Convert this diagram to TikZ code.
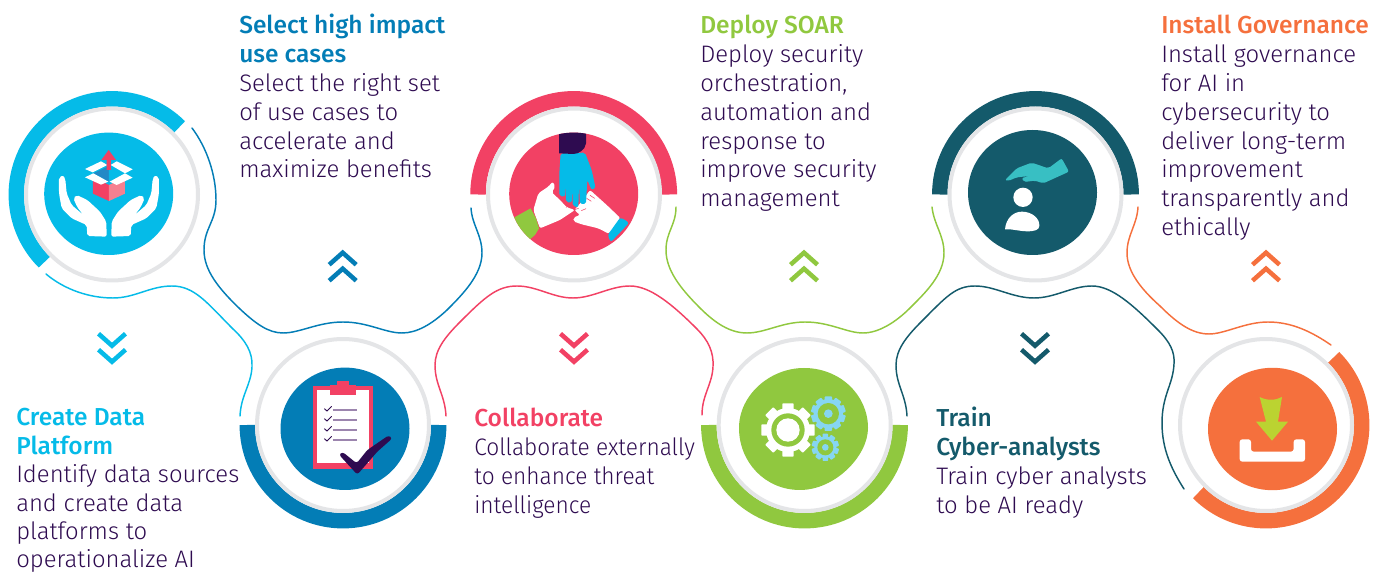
\documentclass[tikz,border=0pt]{standalone}
\usepackage{fontspec}
\newfontfamily\bodyf{Fira Sans Light}
\newfontfamily\headf{Fira Sans Medium}
\definecolor{ink}{HTML}{2E0B50}
\definecolor{ccy}{HTML}{05BBE8}
\definecolor{cbl}{HTML}{037DB6}
\definecolor{cpk}{HTML}{F24164}
\definecolor{cgr}{HTML}{90C83F}
\definecolor{ctl}{HTML}{145A6B}
\definecolor{cor}{HTML}{F5703D}
\definecolor{ringg}{HTML}{E4E5E7}
\definecolor{lite}{HTML}{86D6F2}
\definecolor{dkb}{HTML}{2389C6}
\definecolor{pkl}{HTML}{F58090}
\definecolor{tealh}{HTML}{38BFC3}
\definecolor{lime}{HTML}{BBD331}
\definecolor{chk}{HTML}{9C85AE}
\newcommand{\txl}[1]{\hbox{#1}}
\newcommand{\nrw}[1]{\hbox{\scalebox{0.95}[1]{#1}}}
\newcommand{\hdl}[2]{\hbox{\headf\fontsize{18.4}{21.6}\selectfont\color{#1}#2}}
\tikzset{
  txtblock/.style={anchor=base west,inner sep=0pt,text=ink,font=\bodyf\fontsize{17.9}{21.6}\selectfont},
  wave/.style={line width=1.1pt,line cap=round},
  band/.style={line width=11.6pt},
  ringline/.style={draw=ringg,line width=3pt},
  chev/.style={line width=3.4pt,miter limit=10},
  sheet/.style={shift={#1},scale=1/3},
}
\newcommand{\chevd}[3]{
  \draw[chev,#3] (#1-13.5,#2-15)--(#1,#2-3)--(#1+13.5,#2-15);
  \draw[chev,#3] (#1-13.5,#2+1)--(#1,#2+13)--(#1+13.5,#2+1);
}
\newcommand{\chevu}[3]{
  \draw[chev,#3] (#1-13.5,#2+15)--(#1,#2+3)--(#1+13.5,#2+15);
  \draw[chev,#3] (#1-13.5,#2-1)--(#1,#2-13)--(#1+13.5,#2-1);
}
% gear: cx cy body-radius tooth-top tooth-width teeth colour
\newcommand{\gearshape}[7]{
  \fill[#7] (#1,#2) circle[radius=#3];
  \pgfmathsetmacro{\gstep}{360/#6}
  \foreach \k in {1,...,#6}{
    \pgfmathsetmacro{\gang}{\k*\gstep}
    \fill[#7,rotate around={\gang:(#1,#2)},rounded corners=0.6pt] (#1-#5/2,#2) rectangle (#1+#5/2,#2-#4);
  }
}
\begin{document}
\begin{tikzpicture}[x=0.75pt,y=-0.75pt]
\useasboundingbox (0,0) rectangle (1386,573);

% ---------- coloured bands (angles measured with y flipped)
\draw[band,ccy] (112,194.5) ++(-45:95.7) arc[start angle=-45,end angle=-225,radius=95.7];
\draw[band,cbl] (343,425) ++(180:95.7) arc[start angle=180,end angle=0,radius=95.7];
\draw[band,cpk] (573.7,194.5) ++(0:95.7) arc[start angle=0,end angle=-180,radius=95.7];
\draw[band,cgr] (804.5,425) ++(180:95.7) arc[start angle=180,end angle=0,radius=95.7];
\draw[band,ctl] (1035.5,194.5) ++(0:95.7) arc[start angle=0,end angle=-180,radius=95.7];
\draw[band,cor] (1266,425) ++(-45:95.7) arc[start angle=-45,end angle=135,radius=95.7];

% ---------- rings
\foreach \cx/\cy in {112/194.5,343/425,574/194.5,804.7/425,1035.5/194.5,1266/425}
  \draw[ringline,fill=white] (\cx,\cy) circle[radius=86];

% ---------- discs
\fill[ccy] (108.7,193.8) ellipse[x radius=64.5,y radius=61.2];
\fill[cbl] (345,428.8) ellipse[x radius=64.5,y radius=61.2];
\fill[cpk] (573.7,193.8) ellipse[x radius=64.5,y radius=61.2];
\fill[cgr] (804,368) .. controls (840,368) and (868,395) .. (868,428) .. controls (868,456) and (835,490) .. (800,490) .. controls (765,490) and (739,462) .. (739,428) .. controls (739,395) and (770,368) .. (804,368) -- cycle;
\fill[ctl] (1032.5,192.5) ellipse[x radius=64.5,y radius=62.5];
\fill[cor] (1272.5,429) ellipse[x radius=64.5,y radius=61.2];

% ---------- waves
\draw[wave,ccy] (46,274) .. controls (65,290) and (90,298) .. (113,298) .. controls (135,298) and (150,286) .. (172,286) .. controls (195,286) and (208,304) .. (233,329) .. controls (245,340) and (253,352) .. (252,367) .. controls (251,385) and (241,395) .. (240,416);
\draw[wave,cbl] (192,128) .. controls (207,148) and (216,175) .. (216,200) .. controls (216,222) and (204,228) .. (204,250) .. controls (204,270) and (218,288) .. (240,309) .. controls (255,323) and (268,333) .. (283,333) .. controls (300,333) and (318,322) .. (343,322) .. controls (368,322) and (385,333) .. (402,333) .. controls (417,333) and (432,324) .. (447,310) .. controls (462,295) and (482,275) .. (482,253) .. controls (482,235) and (472,225) .. (471,208);
\draw[wave,cpk] (446,416) .. controls (445,395) and (435,385) .. (435,365) .. controls (435,350) and (445,337) .. (460,322) .. controls (485,297) and (497,286) .. (517,286) .. controls (537,286) and (553,298) .. (573,298) .. controls (593,298) and (610,286) .. (630,286) .. controls (650,286) and (672,304) .. (697,329) .. controls (708,340) and (714,352) .. (713,367) .. controls (712,385) and (702,395) .. (702,415);
\draw[wave,cgr] (676,207) .. controls (676,225) and (666,232) .. (666,250) .. controls (666,270) and (680,288) .. (700,308) .. controls (715,323) and (730,333) .. (747,333) .. controls (765,333) and (782,322) .. (805,322) .. controls (830,322) and (847,333) .. (863,333) .. controls (878,333) and (895,323) .. (910,308) .. controls (925,293) and (944,275) .. (944,253) .. controls (944,235) and (934,225) .. (932,207);
\draw[wave,ctl] (907,416) .. controls (906,395) and (896,385) .. (896,365) .. controls (896,350) and (906,337) .. (921,322) .. controls (946,297) and (955,286) .. (975,286) .. controls (995,286) and (1012,298) .. (1034,298) .. controls (1055,298) and (1072,286) .. (1092,286) .. controls (1112,286) and (1133,305) .. (1158,330) .. controls (1170,342) and (1175,352) .. (1174,364) .. controls (1173,385) and (1162,395) .. (1162,423) .. controls (1162,450) and (1172,470) .. (1184,489);
\draw[wave,cor] (1138,207) .. controls (1137,225) and (1127,235) .. (1127,253) .. controls (1127,272) and (1142,290) .. (1160,306) .. controls (1177,323) and (1192,334) .. (1209,334) .. controls (1225,334) and (1245,322) .. (1268,322) .. controls (1292,322) and (1312,332) .. (1331,345);

% ---------- chevrons
\chevd{112}{348.7}{ccy}
\chevu{342.7}{265.7}{cbl}
\chevd{574}{348.7}{cpk}
\chevu{804}{265.7}{cgr}
\chevd{1035}{348.7}{ctl}
\chevu{1266}{265.7}{cor}

% ---------- icon 1: hands and box
\begin{scope}[sheet={(0,90)}]
  \foreach \m/\off in {1/0,-1/654}{
    \begin{scope}[shift={(\off,0)},xscale=\m]
    \fill[white,rounded corners=1.5pt] (177,262)--(190,256)--(196,268)--(200,310)--(215,345)--(250,375)--(232,352)--(220,325)--(230,315)--(262,330)--(300,365)--(319,395)--(320,440)--(262,438)--(260,405)--(215,385)--(185,355)--(177,310)--cycle;
    \end{scope}
  }
  \fill[cpk] (279,262)--(327,285)--(327,333)--(279,311)--cycle;
  \fill[pkl] (375,262)--(327,285)--(327,333)--(375,311)--cycle;
  \fill[dkb] (280,250)--(327,228)--(327,275)--cycle;
  \fill[ccy] (374,250)--(327,228)--(327,275)--cycle;
  \fill[white] (255,237)--(303,214)--(322,225)--(278,247)--cycle;
  \fill[white] (332,225)--(350,214)--(398,238)--(375,250)--cycle;
  \fill[white] (255,262)--(280,250)--(325,275)--(303,284)--cycle;
  \fill[white] (329,275)--(375,250)--(398,263)--(350,285)--cycle;
  \fill[cpk] (320,240)--(320,210)--(304,210)--(326,180)--(348,210)--(333,210)--(333,240)--cycle;
\end{scope}

% ---------- icon 2: clipboard
\begin{scope}[sheet={(230,320)}]
  \fill[cpk] (249,198) rectangle (429,447);
  \fill[white] (261,210) rectangle (416,430);
  \fill[cpk] (300,195) rectangle (378,225);
  \fill[cpk] (321,183) rectangle (357,196);
  \foreach \yy in {270,300,330,360}{
    \draw[chk,line width=1.1pt] (308,\yy) -- (380,\yy);
    \draw[ink,line width=0.7pt] (283,\yy-4) -- (291,\yy+3) -- (305,\yy-11);
  }
  \fill[ink,rounded corners=2pt] (327,404)--(338,396)--(380,430)--(412,390)--(476,346)--(487,355)--(442,395)--(382,464)--cycle;
\end{scope}

% ---------- icon 3: three hands
\begin{scope}[sheet={(510,130)}]
  \begin{scope}
    \clip (191,191.4) ellipse[x radius=193.5,y radius=183.6];
    \fill[white,rounded corners=1.5pt] (70,240)--(85,190)--(115,170)--(128,155)--(136,170)--(125,187)--(150,210)--(170,232)--(195,240)--(150,270)--(90,295)--cycle;
    \fill[white,rounded corners=1.5pt] (240,180)--(290,225)--(332,265)--(298,312)--(265,295)--(215,283)--(190,274)--(190,263)--(210,255)--(193,240)--(215,215)--cycle;
    \fill[cgr] (13,262)--(62,235)--(78,265)--(87,295)--(75,315)--(55,332)--(35,312)--cycle;
    \fill[ccy,rounded corners=2pt] (331,262)--(358,278)--(302,337)--(293,315)--cycle;
    \fill[ccy,rounded corners=1.5pt] (152,70)--(148,130)--(148,198)--(165,200)--(167,165)--(168,216)--(185,218)--(187,165)--(188,228)--(205,232)--(207,165)--(210,222)--(228,222)--(232,150)--(245,180)--(257,175)--(245,120)--(225,68)--cycle;
    \fill[ink] (147,0)--(228,0)--(228,40)..controls (226,60) and (205,72) .. (190,72)--(147,70)--cycle;
  \end{scope}
  \foreach \xa/\ya/\xb/\yb in {145/198/165/208,168/232/178/226,190/240/206/235,214/242/228/236,230/205/244/214,240/196/254/205}
    \draw[cpk,line width=0.4pt] (\xa,\ya) -- (\xb,\yb);
\end{scope}

% ---------- icon 4: gears
\begin{scope}[sheet={(690,320)}]
  \gearshape{294}{330}{66}{80}{34}{8}{white}
  \fill[cgr] (294,330) circle[radius=50];
  \fill[white] (294,330) circle[radius=35];
  \gearshape{415}{281}{44}{52}{22}{10}{lite}
  \fill[cgr] (415,281) circle[radius=32];
  \fill[lite] (415,281) circle[radius=13];
  \gearshape{406}{382}{33}{41}{17}{10}{lite}
  \fill[cgr] (406,382) circle[radius=24];
  \fill[lite] (406,382) circle[radius=10];
\end{scope}

% ---------- icon 5: hand over person
\begin{scope}[sheet={(920,90)}]
  \fill[tealh,rounded corners=1.5pt] (255,270)--(290,235)--(335,218)--(385,235)--(425,205)--(447,245)--(370,280)--(345,272)--(312,276)--(305,264)--(330,258)--(290,262)--(265,273)--cycle;
  \fill[white] (309,322) circle[radius=29];
  \fill[white] (255,418) .. controls (258,385) and (280,365) .. (306,365) .. controls (335,365) and (360,385) .. (358,408) .. controls (357,420) and (345,424) .. (320,424) .. controls (300,424) and (275,416) .. (255,418) -- cycle;
\end{scope}

% ---------- icon 6: download
\begin{scope}[sheet={(1146,320)}]
  \fill[white,rounded corners=2pt] (281,358)--(315,358)--(315,395)--(443,395)--(443,358)--(477,358)--(477,425)--(281,425)--cycle;
  \fill[lime] (341,231) .. controls (362,242) and (388,242) .. (408,231) -- (396,305)--(426,305)--(378,362)--(330,305)--(360,305)--cycle;
\end{scope}

% ---------- texts
\node[txtblock] (tcreate) at (16,426) {\baselineskip=21.3pt\vtop{\hdl{ccy}{Create Data}\hdl{ccy}{Platform}\txl{Identify data sources}\txl{and create data}\txl{platforms to}\txl{operationalize AI}}};
\node[txtblock] (tselect) at (239,34) {\vtop{\hdl{cbl}{Select high impact}\hdl{cbl}{use cases}\txl{Select the right set}\txl{of use cases to}\txl{accelerate and}\txl{maximize benefits}}};
\node[txtblock] (tcollab) at (474,427) {\vtop{\hdl{cpk}{Collaborate}\nrw{Collaborate externally}\nrw{to enhance threat}\nrw{intelligence}}};
\node[txtblock] (tdeploy) at (700,34) {\vtop{\hdl{cgr}{Deploy SOAR}\txl{Deploy security}\txl{orchestration,}\txl{automation and}\txl{response to}\txl{improve security}\txl{management}}};
\node[txtblock] (ttrain) at (936,427) {\vtop{\hdl{ctl}{Train}\hdl{ctl}{Cyber-analysts}\txl{Train cyber analysts}\txl{to be AI ready}}};
\node[txtblock] (tinstall) at (1161,34) {\vtop{\hdl{cor}{Install Governance}\txl{Install governance}\txl{for AI in}\txl{cybersecurity to}\txl{deliver long-term}\txl{improvement}\txl{transparently and}\txl{ethically}}};
\end{tikzpicture}
\end{document}
